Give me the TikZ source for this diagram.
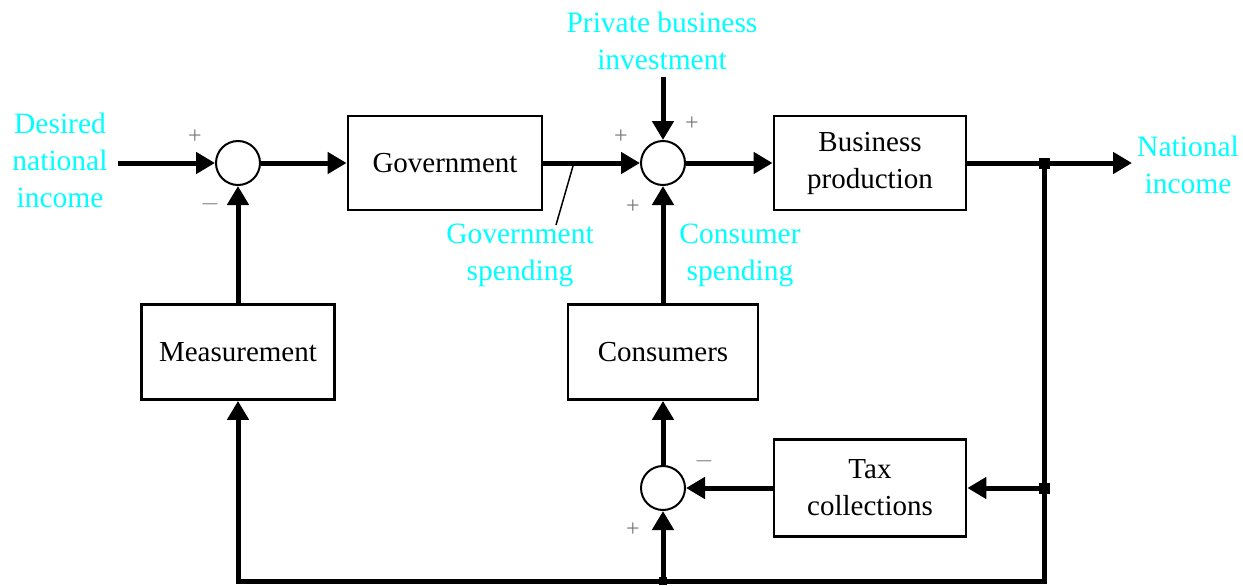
\documentclass[tikz,border=0pt]{standalone}
\usepackage{fontspec}
\setmainfont{Liberation Serif}
\usetikzlibrary{arrows.meta}
\definecolor{lbl}{RGB}{0,255,255}
\definecolor{sgn}{RGB}{120,120,120}
\tikzset{
  blk/.style={draw, line width=2.8pt, rectangle, align=center, font=\fontsize{29}{37}\selectfont},
  sumj/.style={draw, line width=2pt, circle, minimum size=44pt, inner sep=0pt},
  conn/.style={line width=5pt, line join=miter, -{Triangle[length=19pt,width=21pt]}},
  lab/.style={text=lbl, align=center, font=\fontsize{29.5}{37}\selectfont},
  sg/.style={text=sgn, font=\fontsize{24}{24}\selectfont},
  dot/.style={fill=black, minimum size=11pt, inner sep=0pt, rectangle}
}
\begin{document}
\begin{tikzpicture}[x=1pt,y=-1pt]
\useasboundingbox (0,0) rectangle (1243,586);
% blocks
\node[sumj] (s1) at (238,163) {};
\node[blk, minimum width=194pt, minimum height=94pt] (gov) at (445,163) {Government};
\node[sumj] (s2) at (663,163) {};
\node[blk, minimum width=192pt, minimum height=94pt] (bus) at (870,163) {Business\\production};
\node[blk, minimum width=193pt, minimum height=95pt] (meas) at (238,352) {Measurement};
\node[blk, minimum width=190pt, minimum height=95pt] (cons) at (663,352) {Consumers};
\node[blk, minimum width=192pt, minimum height=97pt] (tax) at (870,488) {Tax\\collections};
\node[sumj] (s3) at (663,488) {};
% coordinates
\coordinate (in) at (118,163);
\coordinate (pbi) at (663,77);
\coordinate (out) at (1132,163);
\coordinate (j1) at (1044,163);
\coordinate (j2) at (1044,488);
\coordinate (bl) at (238,581);
\coordinate (bm) at (663,581);
\coordinate (lead1) at (573,166);
\coordinate (lead2) at (556,225);
% connectors
\draw[conn] (in) -- (s1.west);
\draw[conn] (s1.east) -- (gov.west);
\draw[conn] (gov.east) -- (s2.west);
\draw[conn] (pbi) -- (s2.north);
\draw[conn] (cons.north) -- (s2.south);
\draw[conn] (s2.east) -- (bus.west);
\draw[conn] (bus.east) -- (out);
\draw[conn] (j1) |- (bl) -- (meas.south);
\draw[conn] (meas.north) -- (s1.south);
\draw[conn] (j2) -- (tax.east);
\draw[conn] (tax.west) -- (s3.east);
\draw[conn] (s3.north) -- (cons.south);
\draw[conn] (bm) -- (s3.south);
\draw[line width=1.5pt] (lead1) -- (lead2);
\node[dot] (d1) at (j1) {};
\node[dot] (d2) at (j2) {};
\node[dot, minimum size=8pt] (d3) at (bm) {};
% labels
\node[lab] (l1) at (60,160) {Desired\\national\\income};
\node[lab] (l2) at (662,41) {Private business\\investment};
\node[lab] (l3) at (520,255) {Government\\spending};
\node[lab] (l4) at (740,255) {Consumer\\spending};
\node[lab] (l5) at (1188,165) {National\\income};
% signs
\node[sg] (p1) at (195,137) {+};
\node[sg] (m1) at (210,204) {$-$};
\node[sg] (p2) at (621,137) {+};
\node[sg] (p3) at (692,124) {+};
\node[sg] (p4) at (633,207) {+};
\node[sg] (m3) at (704,461) {$-$};
\node[sg] (p5) at (633,530) {+};
\end{tikzpicture}
\end{document}
